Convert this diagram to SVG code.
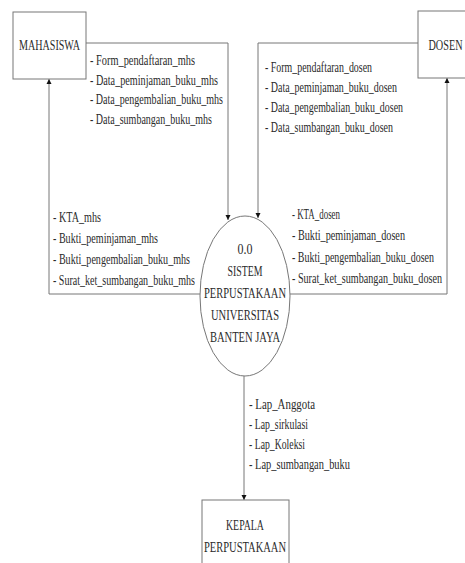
<svg xmlns="http://www.w3.org/2000/svg" width="465" height="563" viewBox="0 0 465 563">
<style>
.box{fill:#fff;stroke:#777;stroke-width:1}
.ln{fill:none;stroke:#777;stroke-width:1}
text{font-family:"Liberation Serif","Times New Roman",serif;fill:#2a2a2a}
.lb{font-size:14px}
.nm{font-size:15px;text-anchor:middle}
</style>
<defs>
<marker id="ah" viewBox="0 0 10 10" refX="10" refY="5" markerWidth="5" markerHeight="7" markerUnits="userSpaceOnUse" orient="auto-start-reverse">
<path d="M0,0 L10,5 L0,10 z" fill="#111"/>
</marker>
</defs>
<rect width="465" height="563" fill="#fff"/>
<g id="connectors">
<path class="ln" d="M86,43 H228 V220" marker-end="url(#ah)"/>
<path class="ln" d="M418,43 H258 V218" marker-end="url(#ah)"/>
<path class="ln" d="M200,294 H49 V79" marker-end="url(#ah)"/>
<path class="ln" d="M290,294 H447 V78" marker-end="url(#ah)"/>
<path class="ln" d="M244,376 V500" marker-end="url(#ah)"/>
</g>
<g id="labels">
<text class="lb" x="90" y="65" textLength="105" lengthAdjust="spacingAndGlyphs">- Form_pendaftaran_mhs</text>
<text class="lb" x="90" y="85" textLength="128" lengthAdjust="spacingAndGlyphs">- Data_peminjaman_buku_mhs</text>
<text class="lb" x="90" y="104" textLength="133" lengthAdjust="spacingAndGlyphs">- Data_pengembalian_buku_mhs</text>
<text class="lb" x="90" y="124" textLength="122" lengthAdjust="spacingAndGlyphs">- Data_sumbangan_buku_mhs</text>
<text class="lb" x="265" y="72" textLength="107" lengthAdjust="spacingAndGlyphs">- Form_pendaftaran_dosen</text>
<text class="lb" x="265" y="92" textLength="132" lengthAdjust="spacingAndGlyphs">- Data_peminjaman_buku_dosen</text>
<text class="lb" x="265" y="112" textLength="138" lengthAdjust="spacingAndGlyphs">- Data_pengembalian_buku_dosen</text>
<text class="lb" x="265" y="132" textLength="128" lengthAdjust="spacingAndGlyphs">- Data_sumbangan_buku_dosen</text>
<text class="lb" x="53" y="222" textLength="48" lengthAdjust="spacingAndGlyphs">- KTA_mhs</text>
<text class="lb" x="53" y="243" textLength="105" lengthAdjust="spacingAndGlyphs">- Bukti_peminjaman_mhs</text>
<text class="lb" x="53" y="264" textLength="137" lengthAdjust="spacingAndGlyphs">- Bukti_pengembalian_buku_mhs</text>
<text class="lb" x="53" y="285" textLength="142" lengthAdjust="spacingAndGlyphs">- Surat_ket_sumbangan_buku_mhs</text>
<text class="lb" x="292" y="219" textLength="48" lengthAdjust="spacingAndGlyphs">- KTA_dosen</text>
<text class="lb" x="292" y="240" textLength="113" lengthAdjust="spacingAndGlyphs">- Bukti_peminjaman_dosen</text>
<text class="lb" x="292" y="262" textLength="142" lengthAdjust="spacingAndGlyphs">- Bukti_pengembalian_buku_dosen</text>
<text class="lb" x="292" y="283" textLength="150" lengthAdjust="spacingAndGlyphs">- Surat_ket_sumbangan_buku_dosen</text>
<text class="lb" x="249" y="409" textLength="66" lengthAdjust="spacingAndGlyphs">- Lap_Anggota</text>
<text class="lb" x="249" y="429" textLength="59" lengthAdjust="spacingAndGlyphs">- Lap_sirkulasi</text>
<text class="lb" x="249" y="449" textLength="56" lengthAdjust="spacingAndGlyphs">- Lap_Koleksi</text>
<text class="lb" x="249" y="469" textLength="101" lengthAdjust="spacingAndGlyphs">- Lap_sumbangan_buku</text>
</g>
<g id="mahasiswa">
<rect class="box" x="13" y="12" width="73" height="67"/>
<text class="nm" x="49.5" y="50" textLength="61" lengthAdjust="spacingAndGlyphs">MAHASISWA</text>
</g>
<g id="dosen">
<rect class="box" x="418" y="11" width="60" height="67"/>
<text class="nm" x="445.5" y="50" textLength="34" lengthAdjust="spacingAndGlyphs">DOSEN</text>
</g>
<g id="sistem">
<ellipse class="box" cx="245" cy="296" rx="45" ry="80"/>
<text class="nm" x="245" y="254" textLength="15" lengthAdjust="spacingAndGlyphs">0.0</text>
<text class="nm" x="245" y="276" textLength="35" lengthAdjust="spacingAndGlyphs">SISTEM</text>
<text class="nm" x="245" y="298" textLength="82" lengthAdjust="spacingAndGlyphs">PERPUSTAKAAN</text>
<text class="nm" x="245" y="320" textLength="68" lengthAdjust="spacingAndGlyphs">UNIVERSITAS</text>
<text class="nm" x="245" y="342" textLength="70" lengthAdjust="spacingAndGlyphs">BANTEN JAYA</text>
</g>
<g id="kepala">
<rect class="box" x="202" y="500" width="87" height="70"/>
<text class="nm" x="245" y="530" textLength="38" lengthAdjust="spacingAndGlyphs">KEPALA</text>
<text class="nm" x="245" y="552" textLength="82" lengthAdjust="spacingAndGlyphs">PERPUSTAKAAN</text>
</g>
</svg>
